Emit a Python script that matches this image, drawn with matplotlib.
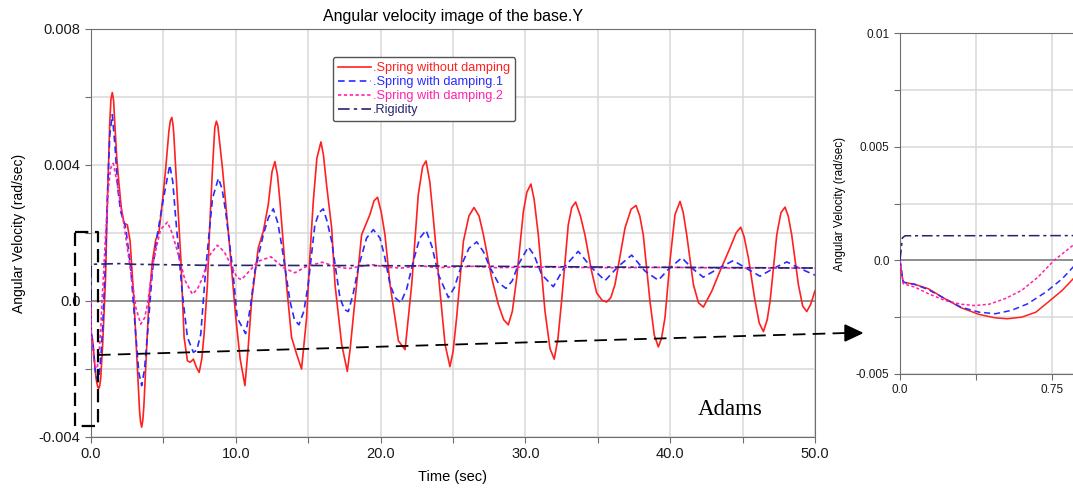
import numpy as np
import matplotlib.pyplot as plt
from matplotlib.lines import Line2D
from matplotlib.patches import Polygon
from matplotlib.ticker import FixedLocator, FixedFormatter

plt.rcParams.update({"font.family": "Liberation Sans", "figure.facecolor": "white"})

RED, BLUE, PINK, NAVY = "#ff2020", "#2a2aff", "#ff22aa", "#25256e"
GRID, SPINE = "#d9d9d9", "#6e6e6e"

# values, angular velocity in 1e-3 rad/sec
t_red = [0, 0.008, 0.016, 0.074, 0.14, 0.22, 0.30, 0.39, 0.47, 0.53, 0.60, 0.67, 0.73, 0.80, 0.854,
         1.0, 1.15, 1.3, 1.38, 1.47, 1.56, 1.62, 1.78, 1.94, 2.1, 2.28, 2.51, 2.7, 2.97, 3.2, 3.35,
         3.42, 3.5, 3.58, 3.65, 3.78, 4.0, 4.24, 4.47, 4.7, 4.95, 5.16, 5.38, 5.48, 5.58, 5.66,
         5.72, 5.85, 6.2, 6.43, 6.66, 6.85, 7.07, 7.28, 7.47, 7.65, 7.81, 8.04, 8.2, 8.39, 8.55,
         8.66, 8.76, 8.85, 9.08, 9.54, 10.0, 10.3, 10.63,
         10.85, 11.09, 11.55, 11.9, 12.24, 12.5, 12.7, 12.88, 13.05, 13.5, 13.85, 14.2, 14.54,
         14.89, 15.1, 15.35, 15.6, 15.88, 16.05, 16.27, 16.62, 16.85, 17.31, 17.7, 17.9, 18.11,
         18.69, 19.26, 19.55, 19.79, 20.05, 20.3, 20.65, 21.23, 21.69, 22.15, 22.6, 22.9, 23.14,
         23.4, 23.64, 24.1, 24.45, 24.79, 25.0, 25.25, 25.72, 26.1, 26.45, 26.8, 27.1, 27.67,
         28.13, 28.5, 28.82, 29.1, 29.4, 29.86, 30.1, 30.38, 30.6, 30.89, 31.35, 31.7, 31.99,
         32.25, 32.5, 32.96, 33.2, 33.47, 33.8, 34.11, 34.57, 34.92, 35.3, 35.61, 35.9, 36.19,
         36.88, 37.3, 37.64, 37.9, 38.14, 38.6, 38.9, 39.18, 39.4, 39.64, 39.99, 40.33, 40.68,
         40.9, 41.14, 41.6, 41.95, 42.29, 42.87, 43.44, 44.13, 44.55, 44.87, 45.1, 45.4, 45.86,
         46.15, 46.44, 46.7, 46.9, 47.36, 47.65, 47.93, 48.15, 48.39, 48.85, 49.15, 49.43, 49.7, 50.0]
v_red = [0, -0.58, -0.96, -1.06, -1.25, -1.68, -2.08, -2.38, -2.53, -2.57, -2.50, -2.28, -1.84, -1.32, -0.81,
         0.6, 3.2, 5.3, 5.95, 6.13, 5.9, 5.4, 4.2, 3.41, 2.7, 2.29, 2.24, 1.76, 0, -1.95, -3.2,
         -3.55, -3.71, -3.5, -3.1, -1.95, 0, 1.17, 1.8, 2.05, 3.0, 3.9, 5.0, 5.3, 5.4, 5.2,
         4.9, 3.9, 1.27, -1.07, -1.76, -1.8, -1.71, -1.95, -2.1, -1.7, -0.98, 0.49, 2.2, 3.9, 5.1,
         5.29, 5.15, 4.8, 3.9, 1.76, -0.49, -1.7, -2.49,
         -1.4, 0, 1.56, 2.05, 2.83, 3.8, 4.1, 3.7, 2.93, 0.49, -1.07, -1.56, -2.0,
         -0.49, 1.2, 2.93, 4.2, 4.68, 4.3, 3.41, 2.15, 0.49, -1.27, -2.07, -1.4, -0.49,
         1.95, 2.54, 2.95, 3.05, 2.6, 1.95, 0.49, -1.17, -1.43, 0.49, 3.12, 3.95, 4.12,
         3.5, 2.44, 0.29, -1.27, -1.93, -1.5, -0.49, 1.76, 2.5, 2.75, 2.5, 1.95, 0.68,
         -0.1, -0.55, -0.7, -0.3, 0.68, 2.63, 3.2, 3.44, 3.0, 1.95, -0.29, -1.4, -1.71,
         -1.1, 0, 2.24, 2.75, 2.91, 2.5, 1.95, 0.88, 0.24, 0.02, -0.03, 0.1, 0.49,
         2.15, 2.7, 2.81, 2.5, 1.95, 0, -1.0, -1.35, -1.1, -0.49, 1.2, 2.54, 2.93,
         2.6, 1.95, 0.49, -0.05, -0.18, 0.29, 0.88, 1.56, 2.0, 2.17, 1.9, 1.27, 0,
         -0.65, -0.9, -0.55, 0, 1.95, 2.6, 2.76, 2.5, 1.95, 0.49, -0.15, -0.31, -0.1, 0.3]

t_blue = [0, 0.016, 0.074, 0.14, 0.22, 0.30, 0.39, 0.47, 0.55, 0.63, 0.72, 0.80, 0.854,
          1.0, 1.15, 1.3, 1.47, 1.65, 1.85, 2.05, 2.4, 2.74, 3.09, 3.3, 3.5, 3.7, 3.9, 4.24,
          4.58, 5.05, 5.44, 5.65, 5.85, 6.31, 6.66, 7.07, 7.3, 7.58, 7.93, 8.39, 8.8, 9.05,
          9.3, 9.77, 10.1, 10.68, 11.0, 11.32, 11.9, 12.25, 12.59, 12.9, 13.16, 13.74, 14.05,
          14.36, 14.7, 15.0, 15.46, 15.75, 16.04, 16.3, 16.62, 17.19, 17.5, 17.77, 18.1, 18.46,
          19.03, 19.5, 19.96, 20.3, 20.65, 21.0, 21.39, 21.8, 22.26, 22.7, 23.14, 23.55, 23.99,
          24.68, 25.1, 25.6, 26.1, 26.64, 27.1, 27.56, 28.1, 28.66, 29.1, 29.51, 30.2, 30.6,
          31.12, 31.93, 32.73, 33.65, 34.57, 35.5, 36.42, 37.34, 38.26, 39.18, 39.87, 40.8,
          41.55, 42.29, 43.3, 44.36, 45.3, 46.2, 47.1, 48.05, 49.0, 49.89, 50.0]
v_blue = [0, -0.96, -1.06, -1.29, -1.68, -2.06, -2.28, -2.35, -2.2, -1.91, -1.39, -0.81, -0.29,
          1.2, 3.3, 4.9, 5.48, 4.6, 3.3, 2.63, 2.15, 0.98, -0.98, -2.1, -2.49, -2.0, -0.98, 0.88,
          1.95, 3.12, 4.0, 3.5, 2.44, 0.2, -1.07, -1.51, -1.45, -0.98, 0.98, 3.02, 3.61, 3.3,
          2.63, 0.98, -0.5, -0.96, -0.2, 0.88, 1.95, 2.45, 2.71, 2.3, 1.66, 0, -0.55,
          -0.70, -0.3, 0.49, 2.24, 2.6, 2.71, 2.35, 1.76, 0.1, -0.25, -0.31, 0.2, 0.98,
          1.85, 2.1, 1.85, 1.27, 0.49, 0.1, -0.05, 0.35, 1.17, 1.85, 2.08, 1.6, 0.78,
          0.1, 0.4, 1.07, 1.55, 1.74, 1.45, 0.98, 0.55, 0.37, 0.6, 1.07, 1.59, 1.35,
          0.78, 0.42, 1.02, 1.46, 0.98, 0.6, 1.02, 1.35, 0.88, 0.61, 0.93, 1.27,
          0.95, 0.7, 0.95, 1.19, 0.95, 0.73, 0.95, 1.15, 0.95, 0.78, 0.76]

t_pink = [0, 0.016, 0.074, 0.14, 0.22, 0.30, 0.37, 0.44, 0.52, 0.60, 0.68, 0.76, 0.854,
          1.0, 1.2, 1.35, 1.54, 1.75, 1.94, 2.28, 2.74, 3.1, 3.43, 3.7, 3.9, 4.35, 4.8, 5.28,
          5.6, 5.97, 6.5, 7.0, 7.35, 7.7, 8.2, 8.73, 9.2, 9.65, 10.1, 10.4, 11.55, 12.43, 13.28,
          14.08, 14.89, 15.97, 16.85, 17.77, 18.6, 19.38, 20.5, 21.5, 22.7, 23.8, 25.0, 26.4,
          28.0, 30.0, 33.0, 36.0, 40.0, 44.0, 50.0]
v_pink = [0, -1.03, -1.18, -1.47, -1.76, -1.93, -1.99, -1.93, -1.68, -1.32, -0.74, 0, 0.67,
          1.9, 3.3, 3.9, 4.05, 3.6, 3.12, 2.24, 0.88, -0.2, -0.68, -0.5, -0.1, 1.27, 2.1, 2.32,
          2.0, 1.46, 0.6, 0.2, 0.35, 0.68, 1.35, 1.64, 1.45, 1.07, 0.68, 0.63, 1.17, 1.3, 0.98,
          0.83, 1.02, 1.14, 1.02, 0.95, 1.02, 1.07, 0.99, 0.97, 1.04, 0.98, 1.0, 1.02,
          0.98, 1.0, 0.99, 0.98, 0.99, 0.97, 0.97]

t_rig = [0, 0.012, 0.025, 2.0, 3.0, 8.0, 20.0, 35.0, 50.0]
v_rig = [0, 0.99, 1.08, 1.1, 1.08, 1.05, 1.04, 1.0, 0.97]

series = [
    (t_red, v_red, RED, dict(ls="-"), ".Spring without damping"),
    (t_blue, v_blue, BLUE, dict(dashes=(4, 2.5)), ".Spring with damping.1"),
    (t_pink, v_pink, PINK, dict(dashes=(2, 1.5)), ".Spring with damping.2"),
    (t_rig, v_rig, NAVY, dict(dashes=(7, 2.5, 2, 2.5)), ".Rigidity"),
]


def style_axes(ax, fs):
    for s in ax.spines.values():
        s.set_color(SPINE)
    ax.tick_params(direction="out", length=4, color=SPINE, labelsize=fs, labelcolor="#1a1a1a")
    ax.grid(True, color=GRID, lw=1.1)
    ax.set_axisbelow(True)
    ax.axhline(0, color="#808080", lw=1.2, zorder=1)


fig = plt.figure(figsize=(10.73, 4.88), dpi=100)
W, H = 1073, 488

# main plot
ax = fig.add_axes([91 / W, 1 - 437 / H, 724 / W, 408 / H])
style_axes(ax, 10.5)
for t, v, c, st, lab in series:
    ax.plot(t, np.array(v) * 1e-3, color=c, lw=1.2, label=lab, zorder=3, **st)
ax.set_xlim(0, 50)
ax.set_ylim(-0.004, 0.008)
ax.xaxis.set_major_locator(FixedLocator(np.arange(0, 51, 5)))
ax.xaxis.set_major_formatter(FixedFormatter(["0.0", "", "10.0", "", "20.0", "", "30.0", "", "40.0", "", "50.0"]))
ax.yaxis.set_major_locator(FixedLocator([-0.004, -0.002, 0, 0.002, 0.004, 0.006, 0.008]))
ax.yaxis.set_major_formatter(FixedFormatter(["-0.004", "", "0.0", "", "0.004", "", "0.008"]))
ax.set_xlabel("Time (sec)", fontsize=10.5, labelpad=6)
ax.set_ylabel("Angular Velocity (rad/sec)", fontsize=10, labelpad=9)
ax.set_title("Angular velocity image of the base.Y", fontsize=11.5, pad=6)
leg = ax.legend(loc="upper left", bbox_to_anchor=(0.334, 0.931), borderaxespad=0, fontsize=9.2,
                handlelength=2.6, handletextpad=0.15, labelspacing=0.15, borderpad=0.4,
                fancybox=True, framealpha=1, edgecolor="#555555")
leg.get_frame().set_linewidth(1.0)
for txt, (_, _, c, _, _) in zip(leg.get_texts(), series):
    txt.set_color(c)
ax.text(0.838, 0.054, "Adams", transform=ax.transAxes, fontsize=16.5, family="Liberation Serif")

# zoomed view of the first second
ax2 = fig.add_axes([900 / W, 1 - 374 / H, 173 / W, 341 / H])
style_axes(ax2, 8.5)
ax2.spines["right"].set_visible(False)
for t, v, c, st, lab in series:
    ax2.plot(t, np.array(v) * 1e-3, color=c, lw=1.1, zorder=3, **st)
ax2.set_xlim(0, 0.853)
ax2.set_ylim(-0.005, 0.01)
ax2.xaxis.set_major_locator(FixedLocator([0, 0.375, 0.75]))
ax2.xaxis.set_major_formatter(FixedFormatter(["0.0", "", "0.75"]))
ax2.yaxis.set_major_locator(FixedLocator(np.arange(-0.005, 0.0101, 0.0025)))
ax2.yaxis.set_major_formatter(FixedFormatter(["-0.005", "", "0.0", "", "0.005", "", "0.01"]))
ax2.set_ylabel("Angular Velocity (rad/sec)", fontsize=8.5, labelpad=7)

# dashed box + arrow linking the two views
def fx(x): return x / W
def fy(y): return 1 - y / H

bx = [75, 98, 98, 75, 75]
by = [232, 232, 426, 426, 232]
fig.add_artist(Line2D([fx(x) for x in bx], [fy(y) for y in by], transform=fig.transFigure,
                      color="black", lw=1.6, dashes=(6, 3)))
fig.add_artist(Line2D([fx(98), fx(846)], [fy(355), fy(333)], transform=fig.transFigure,
                      color="black", lw=1.3, dashes=(7, 4)))
fig.add_artist(Polygon([[fx(845), fy(325)], [fx(862), fy(333)], [fx(845), fy(341)]],
                       closed=True, transform=fig.transFigure, color="black"))

fig.savefig("out.png", dpi=100)
